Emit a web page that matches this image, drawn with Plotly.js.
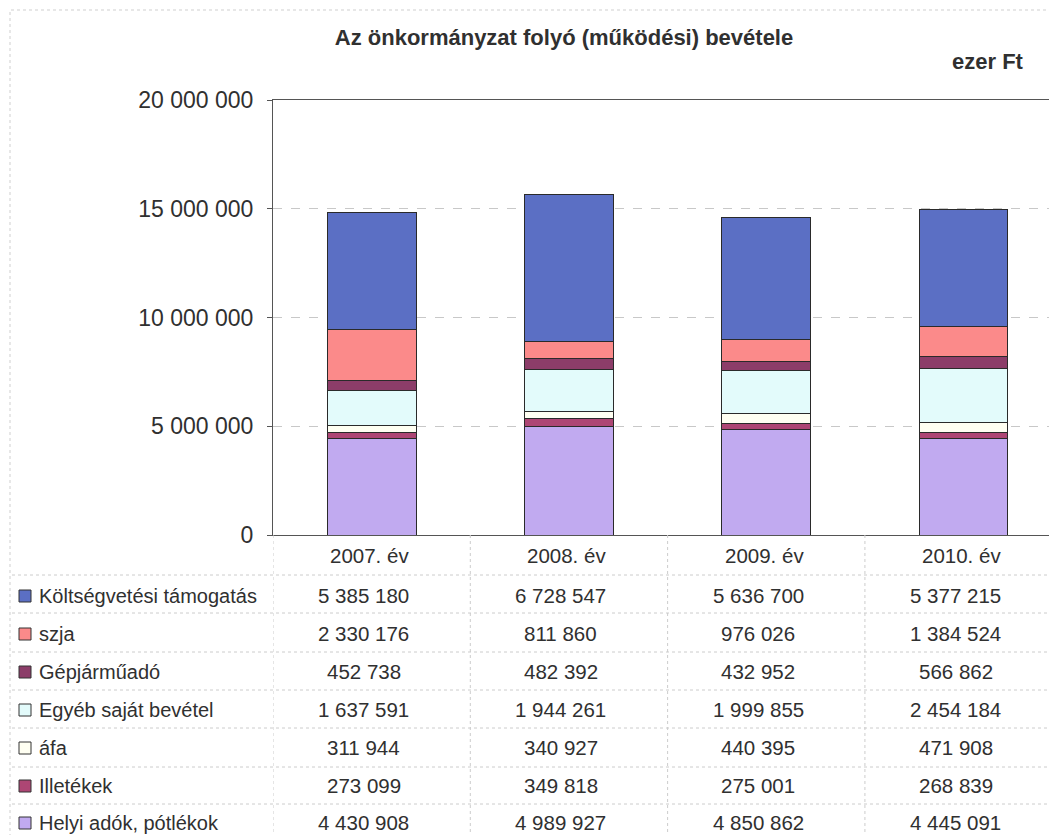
<!DOCTYPE html>
<html>
<head>
<meta charset="utf-8">
<script src="https://cdn.plot.ly/plotly-3.0.1.min.js"></script>
<style>
  html, body { margin: 0; padding: 0; background: #ffffff; }
  #chart { width: 1049px; height: 835px; }
</style>
</head>
<body>
<div id="chart"></div>
<script>
// Folyó (működési) bevételek, ezer Ft
const years = ['2007. év', '2008. év', '2009. év', '2010. év'];

const seriesNames = [
  'Költségvetési támogatás',
  'szja',
  'Gépjárműadó',
  'Egyéb saját bevétel',
  'áfa',
  'Illetékek',
  'Helyi adók, pótlékok'
];

const koltsegvetesi = [5385180, 6728547, 5636700, 5377215];
const szja          = [2330176, 811860, 976026, 1384524];
const gepjarmuado   = [452738, 482392, 432952, 566862];
const egyebSajat    = [1637591, 1944261, 1999855, 2454184];
const afa           = [311944, 340927, 440395, 471908];
const illetekek     = [273099, 349818, 275001, 268839];
const helyiAdok     = [4430908, 4989927, 4850862, 4445091];

const yTickVals = [0, 5000000, 10000000, 15000000, 20000000];

const seriesValues = [koltsegvetesi, szja, gepjarmuado, egyebSajat, afa, illetekek, helyiAdok];
const seriesColors = ['#5b6fc4', '#fb8a8a', '#8c3d69', '#e3fbfb', '#fffff2', '#ad4674', '#c1aaf0'];

// thousands grouped with spaces, e.g. 5 385 180
function fmt(n) {
  return String(n).replace(/\B(?=(\d{3})+(?!\d))/g, ' ');
}

// page geometry (pixels)
const W = 1049, H = 835;
const M = { l: 273, r: 0, t: 100, b: 300 };
const plotW = W - M.l - M.r, plotH = H - M.t - M.b;
const px = x => (x - M.l) / plotW;
const py = y => (H - M.b - y) / plotH;

const textColor = '#303030';
const FONT = 'Liberation Sans, Arial, sans-serif';
const TABLE_SIZE = 20.5;
const LABEL_SIZE = 20;

// stacked from the bottom: last table row first
const traces = [];
for (let i = seriesNames.length - 1; i >= 0; i--) {
  traces.push({
    type: 'bar',
    name: seriesNames[i],
    x: years,
    y: seriesValues[i],
    width: 0.45,
    marker: { color: seriesColors[i], line: { color: '#2a2a2a', width: 1 } },
    hoverinfo: 'skip'
  });
}

const headerY = 555;
const rowCenters = [595, 633, 671, 709, 747, 785, 822];
const rowLines = [575, 613, 652, 690, 728, 767, 804];

const shapes = [];
const annotations = [];

// outer frame
shapes.push({
  type: 'path', xref: 'paper', yref: 'paper',
  path: `M ${px(10)} ${py(H + 20)} L ${px(10)} ${py(10)} L ${px(W + 20)} ${py(10)}`,
  line: { color: '#cfcfcf', width: 1, dash: 'dot' }
});

// table: horizontal row separators
rowLines.forEach(y => {
  shapes.push({
    type: 'line', xref: 'paper', yref: 'paper',
    x0: px(12), x1: px(W + 20), y0: py(y), y1: py(y),
    line: { color: '#cccccc', width: 1, dash: 'dot' }
  });
});

// table: column separators at category boundaries
[-0.5, 0.5, 1.5, 2.5, 3.5].forEach(b => {
  shapes.push({
    type: 'line', xref: 'x', yref: 'paper',
    x0: b, x1: b, y0: 0, y1: py(H + 20),
    line: { color: '#cccccc', width: 1, dash: 'dot' }
  });
});

// column headers
years.forEach(yr => {
  annotations.push({
    xref: 'x', yref: 'paper', x: yr, y: py(headerY), xshift: -2,
    text: yr, showarrow: false, xanchor: 'center', yanchor: 'middle',
    font: { family: FONT, size: TABLE_SIZE, color: textColor }
  });
});

// legend keys, row labels and values
seriesNames.forEach((name, r) => {
  const cy = rowCenters[r];
  shapes.push({
    type: 'rect', xref: 'paper', yref: 'paper',
    x0: px(19), x1: px(31), y0: py(cy - 5), y1: py(cy + 7),
    fillcolor: seriesColors[r], line: { color: '#333333', width: 1 }
  });
  annotations.push({
    xref: 'paper', yref: 'paper', x: px(37), y: py(cy + 1),
    text: name, showarrow: false, xanchor: 'left', yanchor: 'middle',
    font: { family: FONT, size: LABEL_SIZE, color: textColor }
  });
  years.forEach((yr, c) => {
    annotations.push({
      xref: 'x', yref: 'paper', x: yr, y: py(cy), xshift: -8,
      text: fmt(seriesValues[r][c]), showarrow: false,
      xanchor: 'center', yanchor: 'middle',
      font: { family: FONT, size: TABLE_SIZE, color: textColor }
    });
  });
});

// unit label
annotations.push({
  xref: 'paper', yref: 'paper', x: px(1026), y: py(62),
  text: '<b>ezer Ft</b>', showarrow: false, xanchor: 'right', yanchor: 'middle',
  font: { family: FONT, size: 22, color: textColor }
});

const layout = {
  width: W, height: H,
  margin: M,
  paper_bgcolor: '#ffffff',
  plot_bgcolor: '#ffffff',
  barmode: 'stack',
  showlegend: false,
  title: {
    text: '<b>Az önkormányzat folyó (működési) bevétele</b>',
    xref: 'container', yref: 'container',
    x: 564 / W, y: 1 - 37 / H, xanchor: 'center', yanchor: 'middle',
    font: { family: FONT, size: 22, color: textColor }
  },
  xaxis: {
    type: 'category',
    categoryarray: years,
    range: [-0.5, 3.433],
    showticklabels: false,
    ticks: '',
    showgrid: false,
    zeroline: false,
    showline: true, mirror: true,
    linecolor: '#555555', linewidth: 1,
    fixedrange: true
  },
  yaxis: {
    range: [0, 20000000],
    tickvals: yTickVals,
    ticktext: yTickVals.map(fmt),
    ticks: 'outside', ticklen: 5, tickcolor: '#555555',
    ticklabelstandoff: 9,
    tickfont: { family: FONT, size: 23, color: textColor },
    showgrid: true, gridcolor: '#c8c8c8', griddash: 'dash', gridwidth: 1,
    zeroline: false,
    showline: true, linecolor: '#555555', linewidth: 1,
    fixedrange: true
  },
  shapes: shapes,
  annotations: annotations
};

Plotly.newPlot('chart', traces, layout, { staticPlot: true, displayModeBar: false });
</script>
</body>
</html>
